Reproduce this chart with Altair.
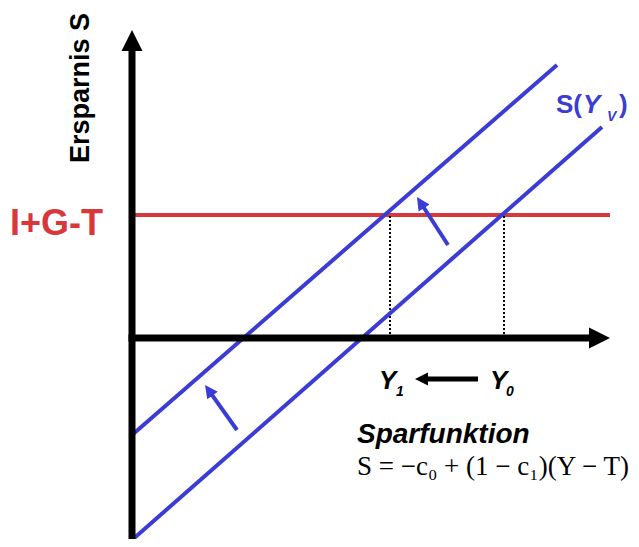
import math
import altair as alt
import pandas as pd

# ---- data (diagram units: origin at the axes' crossing) ----
line_names = ["S_alt", "S_neu"]
line_x0 = [0.0, 0.0]
line_y0 = [-20.2, -9.7]
line_x1 = [47.0, 42.5]
line_y1 = [21.1, 27.3]

# I+G-T level
igt_level = 12.3
igt_x_end = 47.8

# equilibrium incomes (dotted guides)
eq_names = ["Y1", "Y0"]
eq_x = [25.8, 37.2]

# shift arrows (tail -> tip)
arrow_tail_x = [31.6, 10.5, 34.6]
arrow_tail_y = [9.3, -9.2, -4.1]
arrow_tip_x = [28.5, 7.3, 28.3]
arrow_tip_y = [14.1, -4.7, -4.1]
arrow_color = ["#3b3bd6", "#3b3bd6", "black"]

# axes
yaxis_bottom = -22.0
yaxis_tip = 30.8
xaxis_tip = 47.8

XDOM = [-12.4, 49.9]
YDOM = [-20.1, 33.0]
W, H = 623, 531

BLUE = "#3b3bd6"
RED = "#d9383a"
TRI = "M0,-1L1,1L-1,1Z"

xs = alt.Scale(domain=XDOM, nice=False, zero=False)
ys = alt.Scale(domain=YDOM, nice=False, zero=False)


def X(f="x"):
    return alt.X(f"{f}:Q", scale=xs, axis=None)


def Y(f="y"):
    return alt.Y(f"{f}:Q", scale=ys, axis=None)


def head_rows(tail, tip, size_px, color):
    dx, dy = tip[0] - tail[0], tip[1] - tail[1]
    L = math.hypot(dx, dy)
    ux, uy = dx / L, dy / L
    s = size_px / 2 / 10.0
    cx, cy = tip[0] - ux * s, tip[1] - uy * s
    ang = math.degrees(math.atan2(ux, uy)) % 360
    return dict(x=cx, y=cy, angle=ang, size=size_px ** 2, color=color), (cx, cy)


lines_df = pd.DataFrame(dict(name=line_names, x=line_x0, y=line_y0, x2=line_x1, y2=line_y1))
blue_lines = alt.Chart(lines_df).mark_rule(color=BLUE, strokeWidth=4).encode(
    x=X(), y=Y(), x2="x2:Q", y2="y2:Q"
)

red_df = pd.DataFrame(dict(x=[0.0], y=[igt_level], x2=[igt_x_end], y2=[igt_level]))
red_line = alt.Chart(red_df).mark_rule(color=RED, strokeWidth=4).encode(
    x=X(), y=Y(), x2="x2:Q", y2="y2:Q"
)

dot_df = pd.DataFrame(dict(name=eq_names, x=eq_x, y=[0.0] * 2, y2=[igt_level] * 2))
dots = alt.Chart(dot_df).mark_rule(color="black", strokeWidth=2, strokeDash=[2, 2]).encode(
    x=X(), y=Y(), y2="y2:Q"
)

heads = []
shafts = []
for i in range(len(arrow_tail_x)):
    tail = (arrow_tail_x[i], arrow_tail_y[i])
    tip = (arrow_tip_x[i], arrow_tip_y[i])
    row, c = head_rows(tail, tip, 13, arrow_color[i])
    heads.append(row)
    shafts.append(dict(x=tail[0], y=tail[1], x2=c[0], y2=c[1], color=arrow_color[i],
                       w=5 if arrow_color[i] == "black" else 4))

r, cy_ = head_rows((0, 0), (0, yaxis_tip), 21, "black")
heads.append(r)
shafts.append(dict(x=0, y=yaxis_bottom, x2=0, y2=cy_[1] + 0.2, color="black", w=7))
r, cx_ = head_rows((0, 0), (xaxis_tip, 0), 21, "black")
heads.append(r)
shafts.append(dict(x=-0.35, y=0, x2=cx_[0] + 0.2, y2=0, color="black", w=7))

shaft_df = pd.DataFrame(shafts)
head_df = pd.DataFrame(heads)

shaft_layer = alt.Chart(shaft_df).mark_rule(strokeCap="butt").encode(
    x=X(), y=Y(), x2="x2:Q", y2="y2:Q",
    color=alt.Color("color:N", scale=None),
    strokeWidth=alt.StrokeWidth("w:Q", scale=None),
)
head_layer = alt.Chart(head_df).mark_point(shape=TRI, filled=True, opacity=1, strokeWidth=0).encode(
    x=X(), y=Y(),
    angle=alt.Angle("angle:Q", scale=None),
    size=alt.Size("size:Q", scale=None),
    color=alt.Color("color:N", scale=None),
)

# ---- texts ----
texts = [
    ("Ersparnis S", -4.3, 25.0, 27, "bold", "normal", "black", 270, "Liberation Sans", "center"),
    ("I+G-T", -12.2, 10.3, 36, "bold", "normal", RED, 0, "Liberation Sans", "left"),
    ("S(", 42.4, 22.5, 26, "bold", "normal", BLUE, 0, "Liberation Sans", "left"),
    ("Y", 45.1, 22.5, 26, "bold", "italic", BLUE, 0, "Liberation Sans", "left"),
    ("V", 47.5, 21.7, 14, "bold", "italic", BLUE, 0, "Liberation Sans", "left"),
    (")", 48.7, 22.5, 26, "bold", "normal", BLUE, 0, "Liberation Sans", "left"),
    ("Y", 24.7, -5.1, 26, "bold", "italic", "black", 0, "Liberation Sans", "left"),
    ("1", 26.4, -5.8, 14, "bold", "italic", "black", 0, "Liberation Sans", "left"),
    ("Y", 35.8, -5.1, 26, "bold", "italic", "black", 0, "Liberation Sans", "left"),
    ("0", 37.4, -5.8, 14, "bold", "italic", "black", 0, "Liberation Sans", "left"),
    ("Sparfunktion", 22.5, -10.5, 28, "bold", "italic", "black", 0, "Liberation Sans", "left"),
    ("S = \u2212c\u2080 + (1 \u2212 c\u2081)(Y \u2212 T)", 22.5, -13.7, 27, "normal", "normal",
     "black", 0, "Liberation Serif", "left"),
]

text_layers = []
for t, x, y, size, weight, style, color, ang, font, align in texts:
    df = pd.DataFrame(dict(t=[t], x=[x], y=[y]))
    text_layers.append(
        alt.Chart(df).mark_text(
            fontSize=size, fontWeight=weight, fontStyle=style, color=color,
            angle=ang, font=font, align=align, baseline="alphabetic",
        ).encode(x=X(), y=Y(), text="t:N")
    )

chart = alt.layer(
    red_line, dots, blue_lines, shaft_layer, head_layer, *text_layers
).properties(
    width=W, height=H, padding=0, autosize=alt.AutoSizeParams(type="none")
).configure_view(stroke=None)

chart.save("out.html", embed_options={"renderer": "svg", "actions": False})
